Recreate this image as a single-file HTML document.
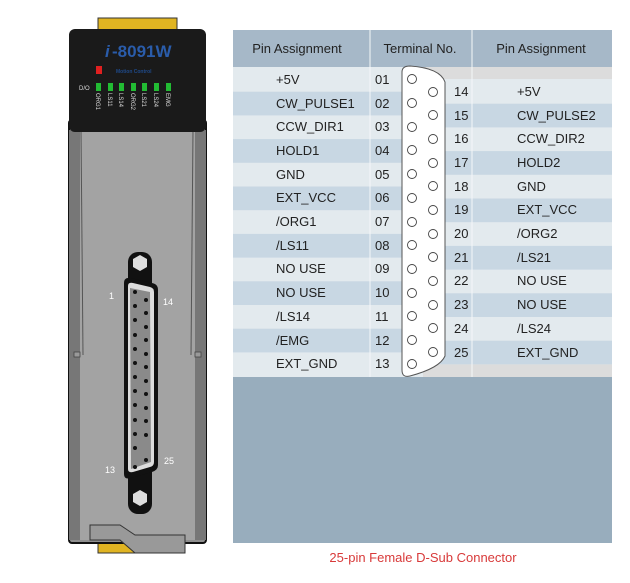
<!DOCTYPE html>
<html><head><meta charset="utf-8"><style>
html,body{margin:0;padding:0;background:#fff;}
svg{display:block;}
text{font-family:"Liberation Sans",sans-serif;}
</style></head><body>
<svg width="630" height="583" viewBox="0 0 630 583" xmlns="http://www.w3.org/2000/svg">
<!-- device -->
<rect x="98" y="18" width="79" height="14" fill="#e0b422" stroke="#333" stroke-width="1"/>
<rect x="98" y="541" width="44" height="12" fill="#e0b422" stroke="#333" stroke-width="1"/>
<rect x="69" y="120" width="137" height="423" rx="3" fill="#8f8f8f" stroke="#111" stroke-width="2"/>
<rect x="80" y="128" width="115" height="412" fill="#a3a3a3"/>
<path d="M69 130 L80 130 L80 540 L69 540Z" fill="#777"/>
<path d="M206 130 L195 130 L195 540 L206 540Z" fill="#777"/>
<line x1="81" y1="130" x2="83" y2="355" stroke="#555"/>
<line x1="193" y1="130" x2="191" y2="355" stroke="#555"/>
<rect x="74" y="352" width="6" height="5" fill="#999" stroke="#444" stroke-width="0.8"/>
<rect x="195" y="352" width="6" height="5" fill="#999" stroke="#444" stroke-width="0.8"/>
<path d="M90 525 L120 525 L135 535 L185 535 L185 553 L135 553 L120 540 L90 540Z" fill="#999" stroke="#333" stroke-width="1"/>
<rect x="69" y="29" width="137" height="103" rx="6" fill="#1a1a1a"/>
<text x="105" y="57" font-size="17" font-weight="bold" fill="#2a5caa" font-style="italic">i</text>
<text x="112" y="57" font-size="17" font-weight="bold" fill="#2a5caa">-8091W</text>
<rect x="96" y="66" width="6" height="8" fill="#e02020"/>
<text x="116" y="73" font-size="5" font-weight="bold" fill="#1f4a8a">Motion Control</text>
<text x="79" y="90" font-size="6" fill="#ddd">D/O</text>
<g fill="#22bb33">
<rect x="96" y="83" width="5" height="8"/><rect x="108" y="83" width="5" height="8"/><rect x="119" y="83" width="5" height="8"/><rect x="131" y="83" width="5" height="8"/><rect x="142" y="83" width="5" height="8"/><rect x="154" y="83" width="5" height="8"/><rect x="166" y="83" width="5" height="8"/>
</g>
<g font-size="6" fill="#ddd">
<text transform="translate(96,93) rotate(90)">ORG1</text>
<text transform="translate(108,93) rotate(90)">LS11</text>
<text transform="translate(119,93) rotate(90)">LS14</text>
<text transform="translate(131,93) rotate(90)">ORG2</text>
<text transform="translate(142,93) rotate(90)">LS21</text>
<text transform="translate(154,93) rotate(90)">LS24</text>
<text transform="translate(166,93) rotate(90)">EMG</text>
</g>
<!-- dsub on device -->
<rect x="128" y="252" width="24" height="262" rx="10" fill="#111"/>
<polygon points="140,255 147,259 147,267 140,271 133,267 133,259" fill="#ddd"/>
<polygon points="140,490 147,494 147,502 140,506 133,502 133,494" fill="#ddd"/>
<path d="M124 283 Q124 277 131 278 L152 283 Q158 284 158 290 L158 465 Q158 470 152 472 L131 478 Q124 480 124 474Z" fill="#111"/>
<path d="M128 286 Q128 282 133 283 L150 287 Q154 288 154 292 L154 462 Q154 466 150 467 L133 472 Q128 473 128 469Z" fill="#ddd"/>
<path d="M130 288 L150 292 L151 462 L131 469Z" fill="#8a8a8a"/>
<g fill="#111">
<circle cx="135" cy="292" r="2"/><circle cx="135" cy="306" r="2"/><circle cx="135" cy="320" r="2"/><circle cx="135" cy="335" r="2"/><circle cx="135" cy="349" r="2"/><circle cx="135" cy="363" r="2"/><circle cx="135" cy="377" r="2"/><circle cx="135" cy="391" r="2"/><circle cx="135" cy="405" r="2"/><circle cx="135" cy="420" r="2"/><circle cx="135" cy="434" r="2"/><circle cx="135" cy="448" r="2"/><circle cx="135" cy="467" r="2"/>
<circle cx="146" cy="300" r="2"/><circle cx="146" cy="313" r="2"/><circle cx="146" cy="327" r="2"/><circle cx="146" cy="340" r="2"/><circle cx="146" cy="354" r="2"/><circle cx="146" cy="367" r="2"/><circle cx="146" cy="381" r="2"/><circle cx="146" cy="394" r="2"/><circle cx="146" cy="408" r="2"/><circle cx="146" cy="421" r="2"/><circle cx="146" cy="435" r="2"/><circle cx="146" cy="460" r="2"/>
</g>
<g font-size="9" fill="#fff">
<text x="109" y="299">1</text><text x="163" y="305">14</text><text x="105" y="473">13</text><text x="164" y="464">25</text>
</g>
<!-- table -->
<rect x="233" y="30" width="379" height="513" fill="#98adbd"/>
<rect x="233" y="30" width="379" height="37" fill="#a6b8c8"/>
<g font-size="13" fill="#222" text-anchor="middle">
<text x="297" y="53">Pin Assignment</text><text x="420" y="53">Terminal No.</text><text x="541" y="53">Pin Assignment</text>
</g>
<rect x="233" y="67" width="379" height="310" fill="#e3eaee"/>
<g fill="#c8d7e3">
<rect x="233" y="91.7" width="190" height="23.7"/><rect x="233" y="139.1" width="190" height="23.7"/><rect x="233" y="186.5" width="190" height="23.7"/><rect x="233" y="233.9" width="190" height="23.7"/><rect x="233" y="281.3" width="190" height="23.7"/><rect x="233" y="328.7" width="190" height="23.7"/>
<rect x="423" y="103.7" width="189" height="23.7"/><rect x="423" y="151.1" width="189" height="23.7"/><rect x="423" y="198.5" width="189" height="23.7"/><rect x="423" y="245.9" width="189" height="23.7"/><rect x="423" y="293.3" width="189" height="23.7"/><rect x="423" y="340.7" width="189" height="23.7"/>
</g>
<rect x="423" y="67" width="189" height="12" fill="#dcdcdc"/>
<rect x="423" y="364.4" width="189" height="12.6" fill="#dcdcdc"/>
<line x1="370" y1="30" x2="370" y2="377" stroke="#f4f7f9" stroke-width="1"/>
<line x1="472" y1="30" x2="472" y2="377" stroke="#f4f7f9" stroke-width="1"/>
<path d="M402 72 Q402 66 410 66 Q440 68 445 82 L445 356 Q440 368 410 376 Q402 378 402 370Z" fill="#fff" stroke="#555" stroke-width="1"/>
<g fill="none" stroke="#444" stroke-width="0.9">
<circle cx="412" cy="79" r="4.5"/><circle cx="412" cy="103" r="4.5"/><circle cx="412" cy="127" r="4.5"/><circle cx="412" cy="150" r="4.5"/><circle cx="412" cy="174" r="4.5"/><circle cx="412" cy="198" r="4.5"/><circle cx="412" cy="222" r="4.5"/><circle cx="412" cy="245" r="4.5"/><circle cx="412" cy="269" r="4.5"/><circle cx="412" cy="293" r="4.5"/><circle cx="412" cy="316" r="4.5"/><circle cx="412" cy="340" r="4.5"/><circle cx="412" cy="364" r="4.5"/>
<circle cx="433" cy="92" r="4.5"/><circle cx="433" cy="115" r="4.5"/><circle cx="433" cy="139" r="4.5"/><circle cx="433" cy="163" r="4.5"/><circle cx="433" cy="186" r="4.5"/><circle cx="433" cy="210" r="4.5"/><circle cx="433" cy="234" r="4.5"/><circle cx="433" cy="257" r="4.5"/><circle cx="433" cy="281" r="4.5"/><circle cx="433" cy="305" r="4.5"/><circle cx="433" cy="328" r="4.5"/><circle cx="433" cy="352" r="4.5"/>
</g>
<g font-size="13" fill="#222">
<text x="276" y="84">+5V</text><text x="276" y="108">CW_PULSE1</text><text x="276" y="131">CCW_DIR1</text><text x="276" y="155">HOLD1</text><text x="276" y="179">GND</text><text x="276" y="202">EXT_VCC</text><text x="276" y="226">/ORG1</text><text x="276" y="250">/LS11</text><text x="276" y="273">NO USE</text><text x="276" y="297">NO USE</text><text x="276" y="321">/LS14</text><text x="276" y="345">/EMG</text><text x="276" y="368">EXT_GND</text>
<text x="375" y="84">01</text><text x="375" y="108">02</text><text x="375" y="131">03</text><text x="375" y="155">04</text><text x="375" y="179">05</text><text x="375" y="202">06</text><text x="375" y="226">07</text><text x="375" y="250">08</text><text x="375" y="273">09</text><text x="375" y="297">10</text><text x="375" y="321">11</text><text x="375" y="345">12</text><text x="375" y="368">13</text>
<text x="454" y="96">14</text><text x="454" y="120">15</text><text x="454" y="143">16</text><text x="454" y="167">17</text><text x="454" y="191">18</text><text x="454" y="214">19</text><text x="454" y="238">20</text><text x="454" y="262">21</text><text x="454" y="285">22</text><text x="454" y="309">23</text><text x="454" y="333">24</text><text x="454" y="357">25</text>
<text x="517" y="96">+5V</text><text x="517" y="120">CW_PULSE2</text><text x="517" y="143">CCW_DIR2</text><text x="517" y="167">HOLD2</text><text x="517" y="191">GND</text><text x="517" y="214">EXT_VCC</text><text x="517" y="238">/ORG2</text><text x="517" y="262">/LS21</text><text x="517" y="285">NO USE</text><text x="517" y="309">NO USE</text><text x="517" y="333">/LS24</text><text x="517" y="357">EXT_GND</text>
</g>
<text x="423" y="562" font-size="13" fill="#d83a3a" text-anchor="middle">25-pin Female D-Sub Connector</text>
</svg>
</body></html>
